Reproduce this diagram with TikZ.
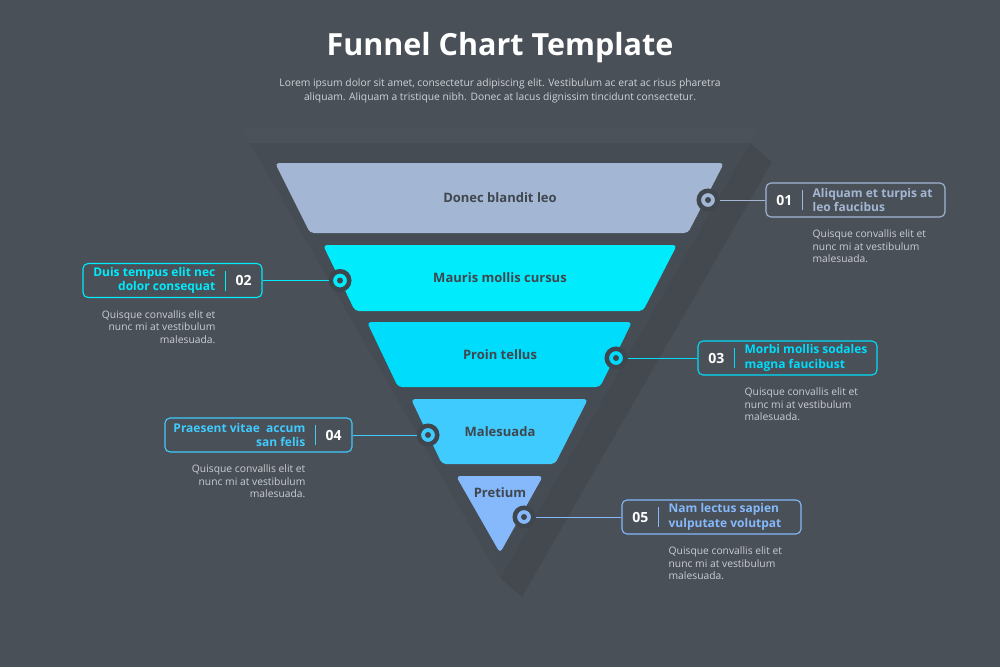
\documentclass[tikz,border=0pt]{standalone}
\usepackage{fontspec}
\setmainfont{Open Sans}
\usepackage{xcolor}
\usepackage{tikz}
\usetikzlibrary{positioning,calc}

\definecolor{bg}{HTML}{4A5058}
\definecolor{funnelbg}{HTML}{464C53}
\definecolor{shadowc}{HTML}{43494F}
\definecolor{rim}{HTML}{4C525A}
\definecolor{ink}{HTML}{40464D}
\definecolor{greytext}{HTML}{CBCFD4}
\definecolor{cA}{HTML}{A3B6D3}
\definecolor{cB}{HTML}{00EBFC}
\definecolor{cC}{HTML}{00DCFB}
\definecolor{cD}{HTML}{40CBFF}
\definecolor{cE}{HTML}{85B9FB}

\begin{document}
\begin{tikzpicture}[x=1pt, y=-1pt,
    lbl/.style={font=\bfseries\fontsize{13}{15}\selectfont, text=ink},
    marker/.style={circle, fill=#1, draw=ink, line width=4.5pt, minimum size=18.5pt, inner sep=0pt,
        path picture={\fill[ink] (path picture bounding box.center) circle (3pt);}},
    tag/.style={draw=#1, line width=1.1pt, rounded corners=5pt, minimum width=179pt, minimum height=34pt},
    num/.style={font=\bfseries\fontsize{14}{16}\selectfont, text=white, inner sep=0pt},
    head/.style={font=\bfseries\fontsize{12}{14.5}\selectfont, text=#1, inner sep=0pt},
    note/.style={font=\fontsize{10.3}{12.7}\selectfont, text=greytext, inner sep=0pt},
    link/.style={draw=#1, line width=1pt}]
    % background
    \fill[bg] (0,0) rectangle (1000,667);
    \useasboundingbox (0,0) rectangle (1000,667);
    \fill[shadowc] (750,143) -- (772,162) -- (522,597) -- (500,578) -- cycle;
    \fill[funnelbg] (250,143) -- (750,143) -- (500,578) -- cycle;
    \fill[rim] (241,128) -- (759,128) -- (750,143) -- (250,143) -- cycle;

    % title
    \node[font=\bfseries\fontsize{30.5}{32}\selectfont, text=white] (title) at (500,48) {Funnel Chart Template};
    \node[font=\fontsize{10.3}{14}\selectfont, text=greytext!90, align=center] (sub) at (500,91)
        {Lorem ipsum dolor sit amet, consectetur adipiscing elit. Vestibulum ac erat ac risus pharetra\\aliquam. Aliquam a tristique nibh. Donec at lacus dignissim tincidunt consectetur.};

    % funnel layers
    \fill[cA, rounded corners=4pt] (275,163) -- (724,163) -- (688,233) -- (310,233) -- cycle;
    \fill[cB, rounded corners=4pt] (323,245) -- (677,245) -- (643,311) -- (355,311) -- cycle;
    \fill[cC, rounded corners=4pt] (367,322) -- (632,322) -- (600,387) -- (398,387) -- cycle;
    \fill[cD, rounded corners=4pt] (411,399) -- (588,399) -- (555,464) -- (442,464) -- cycle;
    \fill[cE, rounded corners=4pt] (456,476) -- (543,476) -- (500,553) -- cycle;
    \node[lbl] (l1) at (500,198) {Donec blandit leo};
    \node[lbl] (l2) at (500,278) {Mauris mollis cursus};
    \node[lbl] (l3) at (500,355) {Proin tellus};
    \node[lbl] (l4) at (500,432) {Malesuada};
    \node[lbl] (l5) at (500,493) {Pretium};

    % tags
    \node[tag=cA] (b1) at (855.5,200) {};
    \node[tag=cB] (b2) at (172.5,280.5) {};
    \node[tag=cC] (b3) at (787.5,358) {};
    \node[tag=cD, minimum width=187pt] (b4) at (258.5,435) {};
    \node[tag=cE] (b5) at (711.5,517) {};

    % markers and links
    \node[marker=cA] (m1) at (708,200) {};
    \node[marker=cB] (m2) at (340,280.5) {};
    \node[marker=cC] (m3) at (616,358) {};
    \node[marker=cD] (m4) at (428,435) {};
    \node[marker=cE] (m5) at (524,517) {};
    \draw[link=cA] (m1.east) -- (b1.west);
    \draw[link=cB] (m2.west) -- (b2.east);
    \draw[link=cC] (m3.east) -- (b3.west);
    \draw[link=cD] (m4.west) -- (b4.east);
    \draw[link=cE] (m5.east) -- (b5.west);

    % right side tags
    \node[num] (n1) at ([xshift=19pt]b1.west) {01};
    \draw[cA, line width=1pt] ([xshift=37pt,yshift=10pt]b1.west) -- ([xshift=37pt,yshift=-10pt]b1.west);
    \node[head=cA, anchor=west, align=left] (h1) at ([xshift=47pt]b1.west) {Aliquam et turpis at\\leo faucibus};
    \node[note, anchor=north west, align=left] (d1) at ($(b1.south west)+(47,12)$) {Quisque convallis elit et\\nunc mi at vestibulum\\malesuada.};

    \node[num] (n3) at ([xshift=19pt]b3.west) {03};
    \draw[cC, line width=1pt] ([xshift=37pt,yshift=10pt]b3.west) -- ([xshift=37pt,yshift=-10pt]b3.west);
    \node[head=cC, anchor=west, align=left] (h3) at ([xshift=47pt]b3.west) {Morbi mollis sodales\\magna faucibust};
    \node[note, anchor=north west, align=left] (d3) at ($(b3.south west)+(47,12)$) {Quisque convallis elit et\\nunc mi at vestibulum\\malesuada.};

    \node[num] (n5) at ([xshift=19pt]b5.west) {05};
    \draw[cE, line width=1pt] ([xshift=37pt,yshift=10pt]b5.west) -- ([xshift=37pt,yshift=-10pt]b5.west);
    \node[head=cE, anchor=west, align=left] (h5) at ([xshift=47pt]b5.west) {Nam lectus sapien\\vulputate volutpat};
    \node[note, anchor=north west, align=left] (d5) at ($(b5.south west)+(47,12)$) {Quisque convallis elit et\\nunc mi at vestibulum\\malesuada.};

    % left side tags
    \node[num] (n2) at ([xshift=-19pt]b2.east) {02};
    \draw[cB, line width=1pt] ([xshift=-37pt,yshift=10pt]b2.east) -- ([xshift=-37pt,yshift=-10pt]b2.east);
    \node[head=cB, anchor=east, align=right] (h2) at ([xshift=-47pt]b2.east) {Duis tempus elit nec\\dolor consequat};
    \node[note, anchor=north east, align=right] (d2) at ($(b2.south east)+(-47,12)$) {Quisque convallis elit et\\nunc mi at vestibulum\\malesuada.};

    \node[num] (n4) at ([xshift=-19pt]b4.east) {04};
    \draw[cD, line width=1pt] ([xshift=-37pt,yshift=10pt]b4.east) -- ([xshift=-37pt,yshift=-10pt]b4.east);
    \node[head=cD, anchor=east, align=right] (h4) at ([xshift=-47pt]b4.east) {Praesent vitae~ accum\\san felis};
    \node[note, anchor=north east, align=right] (d4) at ($(b4.south east)+(-47,12)$) {Quisque convallis elit et\\nunc mi at vestibulum\\malesuada.};
\end{tikzpicture}
\end{document}
